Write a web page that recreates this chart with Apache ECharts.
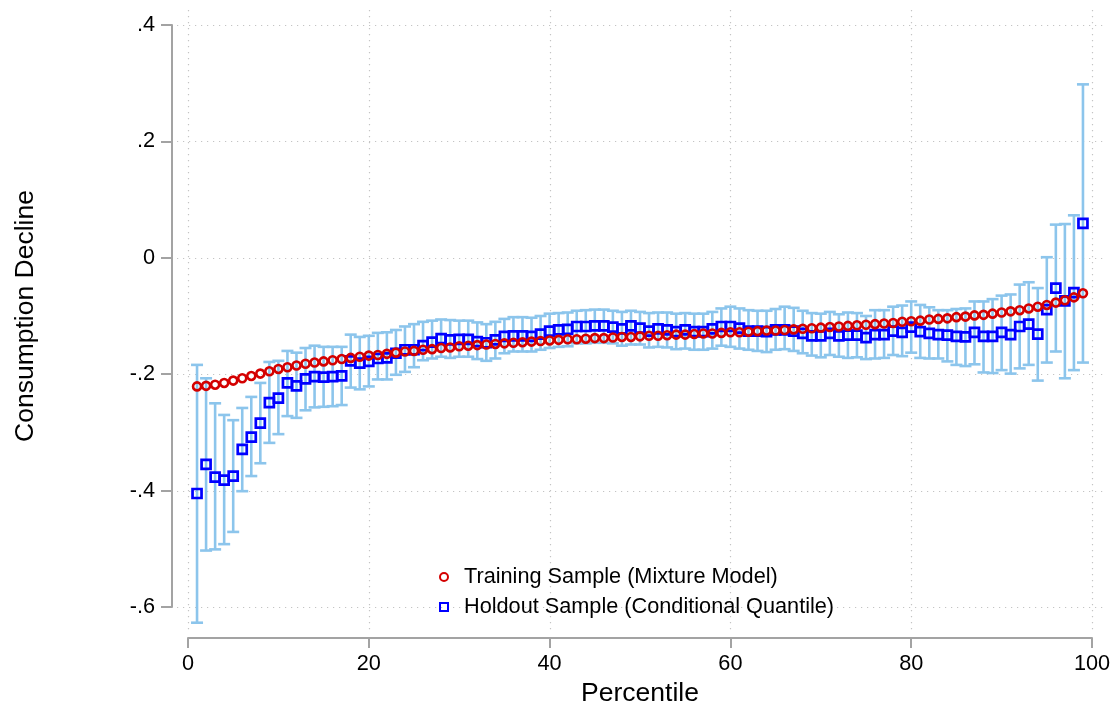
<!DOCTYPE html>
<html>
<head>
<meta charset="utf-8">
<script src="https://cdn.jsdelivr.net/npm/echarts@6/dist/echarts.min.js"></script>
<style>
html,body{margin:0;padding:0;background:#fff;}
#chart{width:1113px;height:709px;}
</style>
</head>
<body>
<div id="chart"></div>
<script>
// ---- Data ----
const percentiles = Array.from({length: 99}, (_, i) => i + 1);

const trainingMixture = [
 -0.221,-0.220,-0.218,-0.215,-0.211,-0.207,-0.203,-0.199,-0.195,-0.191,
 -0.188,-0.185,-0.182,-0.180,-0.178,-0.176,-0.174,-0.172,-0.170,-0.168,
 -0.167,-0.165,-0.163,-0.161,-0.160,-0.158,-0.157,-0.155,-0.154,-0.152,
 -0.151,-0.150,-0.149,-0.148,-0.147,-0.146,-0.145,-0.144,-0.143,-0.142,
 -0.141,-0.140,-0.140,-0.139,-0.138,-0.138,-0.137,-0.136,-0.136,-0.135,
 -0.134,-0.134,-0.133,-0.132,-0.132,-0.131,-0.130,-0.130,-0.129,-0.128,
 -0.128,-0.127,-0.126,-0.125,-0.125,-0.124,-0.123,-0.122,-0.121,-0.120,
 -0.119,-0.118,-0.117,-0.116,-0.115,-0.114,-0.113,-0.112,-0.110,-0.109,
 -0.108,-0.106,-0.105,-0.104,-0.102,-0.101,-0.099,-0.098,-0.096,-0.094,
 -0.092,-0.090,-0.087,-0.084,-0.081,-0.077,-0.073,-0.068,-0.061
];

const holdoutQuantile = [
 -0.405,-0.355,-0.377,-0.382,-0.375,-0.329,-0.308,-0.284,-0.249,-0.241,
 -0.215,-0.220,-0.208,-0.204,-0.205,-0.204,-0.203,-0.177,-0.181,-0.178,
 -0.173,-0.172,-0.164,-0.158,-0.158,-0.151,-0.145,-0.139,-0.141,-0.140,
 -0.140,-0.144,-0.146,-0.141,-0.135,-0.134,-0.134,-0.135,-0.131,-0.126,
 -0.124,-0.123,-0.118,-0.118,-0.117,-0.117,-0.119,-0.122,-0.117,-0.121,
 -0.126,-0.122,-0.124,-0.127,-0.124,-0.127,-0.127,-0.122,-0.118,-0.118,
 -0.121,-0.126,-0.126,-0.127,-0.124,-0.124,-0.126,-0.130,-0.134,-0.134,
 -0.130,-0.134,-0.133,-0.133,-0.137,-0.132,-0.132,-0.126,-0.128,-0.119,
 -0.127,-0.130,-0.132,-0.133,-0.135,-0.136,-0.128,-0.135,-0.135,-0.128,
 -0.132,-0.118,-0.114,-0.131,-0.089,-0.052,-0.074,-0.060,0.059
];

const holdoutUpper = [
 -0.184,-0.207,-0.250,-0.270,-0.279,-0.258,-0.239,-0.215,-0.179,-0.177,
 -0.160,-0.163,-0.155,-0.151,-0.153,-0.153,-0.153,-0.132,-0.136,-0.134,
 -0.129,-0.128,-0.124,-0.118,-0.114,-0.110,-0.108,-0.106,-0.107,-0.108,
 -0.108,-0.111,-0.114,-0.110,-0.105,-0.102,-0.102,-0.103,-0.100,-0.096,
 -0.095,-0.094,-0.091,-0.090,-0.089,-0.089,-0.091,-0.093,-0.091,-0.093,
 -0.095,-0.094,-0.094,-0.096,-0.095,-0.096,-0.096,-0.093,-0.087,-0.084,
 -0.087,-0.090,-0.091,-0.091,-0.088,-0.084,-0.086,-0.091,-0.095,-0.096,
 -0.093,-0.097,-0.094,-0.095,-0.100,-0.090,-0.090,-0.084,-0.082,-0.075,
 -0.081,-0.085,-0.090,-0.090,-0.088,-0.087,-0.075,-0.075,-0.071,-0.065,
 -0.063,-0.046,-0.042,-0.052,0.001,0.057,0.058,0.073,0.298
];

const holdoutLower = [
 -0.627,-0.503,-0.501,-0.492,-0.471,-0.401,-0.375,-0.353,-0.318,-0.303,
 -0.272,-0.275,-0.262,-0.257,-0.256,-0.255,-0.253,-0.223,-0.226,-0.221,
 -0.209,-0.209,-0.201,-0.196,-0.188,-0.176,-0.173,-0.170,-0.172,-0.170,
 -0.170,-0.174,-0.177,-0.173,-0.164,-0.161,-0.161,-0.161,-0.158,-0.155,
 -0.153,-0.152,-0.147,-0.147,-0.146,-0.146,-0.147,-0.151,-0.149,-0.149,
 -0.154,-0.153,-0.154,-0.157,-0.156,-0.158,-0.158,-0.156,-0.151,-0.153,
 -0.156,-0.158,-0.160,-0.162,-0.158,-0.157,-0.160,-0.164,-0.168,-0.171,
 -0.167,-0.170,-0.172,-0.171,-0.174,-0.173,-0.172,-0.167,-0.169,-0.163,
 -0.172,-0.173,-0.173,-0.178,-0.184,-0.186,-0.183,-0.197,-0.198,-0.193,
 -0.199,-0.190,-0.184,-0.211,-0.180,-0.161,-0.207,-0.193,-0.180
];

const xTicks = [0, 20, 40, 60, 80, 100];
const yTicks = [-0.6, -0.4, -0.2, 0, 0.2, 0.4];
const yTickLabels = ['-.6', '-.4', '-.2', '0', '.2', '.4'];

const seriesNames = ['Training Sample (Mixture Model)', 'Holdout Sample (Conditional Quantile)'];

// ---- Chart ----
const FONT = '"Liberation Sans", Arial, Helvetica, sans-serif';
const AXIS_GRAY = '#a3a3a3';
const GRID_GRAY = '#c4c4c4';
const CI_BLUE = '#8cc5ec';

const chart = echarts.init(document.getElementById('chart'), null, {renderer: 'canvas'});

const ciData = percentiles.map((p, i) => [p, holdoutLower[i], holdoutUpper[i]]);
const redData = percentiles.map((p, i) => [p, trainingMixture[i]]);
const blueData = percentiles.map((p, i) => [p, holdoutQuantile[i]]);

function labelFor(v) {
  for (let i = 0; i < yTicks.length; i++) {
    if (Math.abs(yTicks[i] - v) < 1e-9) return yTickLabels[i];
  }
  return '';
}

const option = {
  backgroundColor: '#fff',
  animation: false,
  grid: {left: 188, right: 21, top: 25, bottom: 102, containLabel: false, outerBoundsMode: 'none'},
  xAxis: {
    type: 'value', min: 0, max: 100, interval: 20,
    offset: 31,
    name: 'Percentile', nameLocation: 'middle', nameGap: 42,
    nameTextStyle: {fontFamily: FONT, fontSize: 26.5, color: '#000'},
    axisLine: {show: true, onZero: false, lineStyle: {color: AXIS_GRAY, width: 2}},
    axisTick: {show: true, length: 10, lineStyle: {color: AXIS_GRAY, width: 2}},
    axisLabel: {fontFamily: FONT, fontSize: 21.7, color: '#000', margin: 15},
    splitLine: {show: false}
  },
  yAxis: {
    type: 'value', min: -0.6, max: 0.4, interval: 0.2,
    offset: 16,
    name: 'Consumption Decline', nameLocation: 'middle', nameGap: 133,
    nameTextStyle: {fontFamily: FONT, fontSize: 26.5, color: '#000'},
    axisLine: {show: true, onZero: false, lineStyle: {color: AXIS_GRAY, width: 2}},
    axisTick: {show: true, length: 11, lineStyle: {color: AXIS_GRAY, width: 2}},
    axisLabel: {fontFamily: FONT, fontSize: 21.7, color: '#000', margin: 17, formatter: labelFor},
    splitLine: {show: false}
  },
  legend: {
    data: seriesNames,
    orient: 'vertical',
    left: 434, top: 561,
    itemWidth: 8, itemHeight: 8, itemGap: 8,
    textStyle: {fontFamily: FONT, fontSize: 21.7, color: '#000', padding: [0, 0, 0, 11], lineHeight: 22}
  },
  series: [
    {
      type: 'custom',
      name: 'grid',
      silent: true,
      clip: false,
      z: 0,
      data: [[0, 0]],
      renderItem: function (params, api) {
        const children = [];
        const xl = api.coord([0, 0])[0] - 11;
        const xr = api.coord([100, 0])[0] + 15;
        const yt = api.coord([0, 0.4])[1] - 15;
        const yb = api.coord([0, -0.6])[1] + 26;
        const ls = {stroke: GRID_GRAY, lineWidth: 1.2, lineDash: [1.2, 4.8]};
        yTicks.forEach(v => {
          const y = Math.round(api.coord([0, v])[1]) + 0.5;
          children.push({type: 'line', shape: {x1: xl, y1: y, x2: xr, y2: y}, style: ls});
        });
        xTicks.forEach(v => {
          const x = Math.round(api.coord([v, 0])[0]) + 0.5;
          children.push({type: 'line', shape: {x1: x, y1: yt, x2: x, y2: yb}, style: ls});
        });
        return {type: 'group', children: children};
      }
    },
    {
      type: 'custom',
      name: 'ci',
      silent: true,
      clip: false,
      z: 1,
      data: ciData,
      encode: {x: 0, y: [1, 2]},
      renderItem: function (params, api) {
        const x = api.value(0);
        const lo = api.coord([x, api.value(1)]);
        const hi = api.coord([x, api.value(2)]);
        const hw = 6;
        const st = {stroke: CI_BLUE, lineWidth: 2.6};
        return {
          type: 'group',
          children: [
            {type: 'line', shape: {x1: lo[0], y1: lo[1], x2: hi[0], y2: hi[1]}, style: st},
            {type: 'line', shape: {x1: hi[0] - hw, y1: hi[1], x2: hi[0] + hw, y2: hi[1]}, style: st},
            {type: 'line', shape: {x1: lo[0] - hw, y1: lo[1], x2: lo[0] + hw, y2: lo[1]}, style: st}
          ]
        };
      }
    },
    {
      type: 'scatter',
      name: seriesNames[1],
      data: blueData,
      z: 2,
      symbol: 'rect',
      symbolSize: 9,
      itemStyle: {color: 'rgba(255,255,255,0)', borderColor: '#0000ff', borderWidth: 2.7, opacity: 1}
    },
    {
      type: 'scatter',
      name: seriesNames[0],
      data: redData,
      z: 3,
      symbol: 'circle',
      symbolSize: 8,
      itemStyle: {color: 'rgba(255,255,255,0)', borderColor: '#d40000', borderWidth: 2.6, opacity: 1}
    }
  ]
};

chart.setOption(option);
</script>
</body>
</html>
